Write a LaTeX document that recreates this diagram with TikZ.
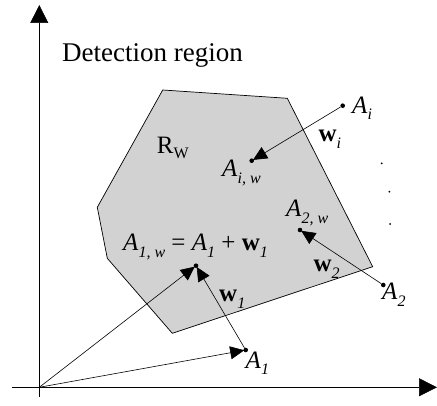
\documentclass[tikz,border=0pt]{standalone}
\usepackage{fontspec}
\setmainfont{Liberation Serif}
\usepackage{xcolor}
\usetikzlibrary{arrows.meta}
\definecolor{regiongray}{HTML}{D2D2D2}
\newcommand{\lsub}[1]{\raisebox{-0.26em}{\fontsize{16}{16}\selectfont\itshape #1}}
\newcommand{\vecw}{\textbf{w}}

\begin{document}
\begin{tikzpicture}[x=1pt,y=-1pt, every node/.style={font=\fontsize{25}{28}\selectfont,inner sep=0pt}]
\tikzstyle{pt}=[circle,fill=black,minimum size=4.6pt,inner sep=0pt]
\tikzstyle{vec}=[-{Triangle[length=14pt,width=13pt]},line width=0.6pt,shorten >=-1pt]
\tikzstyle{axis}=[-{Triangle[length=18pt,width=18pt]},line width=0.6pt]
\tikzstyle{lab}=[anchor=base west]
\useasboundingbox (0,0) rectangle (437,406);
% detection region
\fill[regiongray,draw=black,line width=0.7pt] (162.7,90) -- (287.3,98.3) -- (372.7,266.7)
  -- (172.3,333.3) -- (107.3,258.3) -- (97.3,207.3) -- cycle;
% axes
\coordinate (O) at (39.3,387.3);
\coordinate (ybot) at (39.3,397);
\coordinate (ytop) at (39.3,5);
\coordinate (xleft) at (12,387.3);
\coordinate (xright) at (437,387.3);
\draw[axis] (ybot) -- (ytop);
\draw[axis] (xleft) -- (xright);
% points
\node[pt] (Ai) at (342.7,105.7) {};
\node[pt] (Aiw) at (251.7,160.7) {};
\node[pt] (A2) at (383.3,285) {};
\node[pt] (A2w) at (300,230) {};
\node[pt] (A1) at (245.7,350) {};
\node[pt] (A1w) at (196,265.7) {};
\fill (381.7,163.3) circle (1pt) (389.3,191.7) circle (1pt) (390,224) circle (1pt);
% vectors
\draw[vec] (Ai) -- (Aiw);
\draw[vec] (A2) -- (A2w);
\draw[vec] (A1) -- (A1w);
\draw[vec] (O) -- (A1w);
\draw[vec] (O) -- (A1);
% labels
\node[lab,font=\fontsize{27}{30}\selectfont] (title) at (62,61.7) {Detection region};
\node[lab,font=\fontsize{25}{28}\selectfont] (rw) at (156.7,153.3) {R\raisebox{-0.2em}{\fontsize{16}{16}\selectfont W}};
\node[lab] (lAi) at (352,113.3) {\textit{A}\lsub{i}};
\node[lab] (lwi) at (318.3,141.7) {\vecw\lsub{i}};
\node[lab] (lAiw) at (222,176.7) {\textit{A}\lsub{i, w}};
\node[lab] (lA2w) at (286,216.7) {\textit{A}\lsub{2, w}};
\node[lab] (lA1w) at (123,251) {\textit{A}\lsub{1, w} = \textit{A}\lsub{1} + \vecw\lsub{1}};
\node[lab] (lw2) at (313.3,271.7) {\vecw\lsub{2}};
\node[lab] (lA2) at (382,300) {\textit{A}\lsub{2}};
\node[lab] (lw1) at (219,301.7) {\vecw\lsub{1}};
\node[lab] (lA1) at (245.5,368.3) {\textit{A}\lsub{1}};
\end{tikzpicture}
\end{document}
